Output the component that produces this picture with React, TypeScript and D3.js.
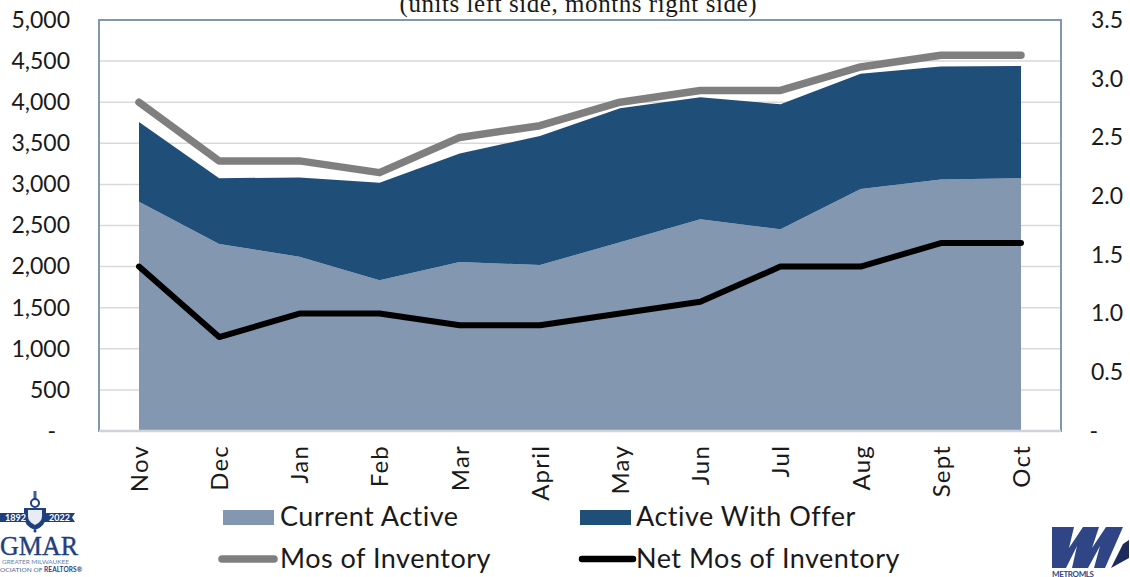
import * as React from 'react';
import * as d3 from 'd3';

const months = ['Nov', 'Dec', 'Jan', 'Feb', 'Mar', 'April', 'May', 'Jun', 'Jul', 'Aug', 'Sept', 'Oct'];
const currentActive = [2790, 2275, 2120, 1835, 2055, 2020, 2295, 2575, 2455, 2945, 3060, 3075];
const activeWithOffer = [970, 800, 965, 1185, 1320, 1570, 1630, 1485, 1520, 1400, 1375, 1365];
const mosOfInventory = [2.8, 2.3, 2.3, 2.2, 2.5, 2.6, 2.8, 2.9, 2.9, 3.1, 3.2, 3.2];
const netMosOfInventory = [1.4, 0.8, 1.0, 1.0, 0.9, 0.9, 1.0, 1.1, 1.4, 1.4, 1.6, 1.6];
const leftTicks = [0, 500, 1000, 1500, 2000, 2500, 3000, 3500, 4000, 4500, 5000];
const rightTicks = [0, 0.5, 1, 1.5, 2, 2.5, 3, 3.5];

const FONT = 'Lato, "Open Sans", sans-serif';
const LIGHT = '#8497b0';
const DARK = '#1f4e79';

const margin = { top: 20, right: 69, bottom: 146, left: 99 };
const width = 1130;
const height = 577;

const CurrentChart = () => {
  const ref = React.useRef<SVGSVGElement | null>(null);

  React.useEffect(() => {
    const svg = d3.select(ref.current);
    svg.selectAll('*').remove();

    const innerW = width - margin.left - margin.right;
    const innerH = height - margin.top - margin.bottom;
    const g = svg.append('g').attr('transform', `translate(${margin.left},${margin.top})`);

    const x = d3.scalePoint().domain(months).range([40, innerW - 40]);
    const yLeft = d3.scaleLinear().domain([0, 5000]).range([innerH, 0]);
    const yRight = d3.scaleLinear().domain([0, 3.5]).range([innerH, 0]);

    // gridlines
    g.selectAll('.grid')
      .data(leftTicks.filter((d) => d > 0 && d < 5000))
      .enter()
      .append('line')
      .attr('x1', 0)
      .attr('x2', innerW)
      .attr('y1', (d) => yLeft(d))
      .attr('y2', (d) => yLeft(d))
      .attr('stroke', '#d9d9d9')
      .attr('stroke-width', 1.5);

    // stacked areas
    const rows = months.map((m, i) => ({ month: m, current: currentActive[i], offer: activeWithOffer[i] }));
    const stacked = d3.stack().keys(['current', 'offer'])(rows as any);
    const area = d3
      .area<any>()
      .x((d) => x(d.data.month))
      .y0((d) => yLeft(d[0]))
      .y1((d) => yLeft(d[1]));
    g.selectAll('.band')
      .data(stacked)
      .enter()
      .append('path')
      .attr('d', (d) => area(d))
      .attr('fill', (d, i) => (i === 0 ? LIGHT : DARK));

    // frame
    g.append('rect')
      .attr('width', innerW)
      .attr('height', innerH)
      .attr('fill', 'none')
      .attr('stroke', LIGHT)
      .attr('stroke-width', 2);
    g.append('line')
      .attr('x1', 0)
      .attr('x2', innerW)
      .attr('y1', innerH)
      .attr('y2', innerH)
      .attr('stroke', '#d0d4da')
      .attr('stroke-width', 2.5);

    // lines
    const line = d3
      .line<number>()
      .x((d, i) => x(months[i]))
      .y((d) => yRight(d));
    g.append('path')
      .attr('d', line(mosOfInventory))
      .attr('fill', 'none')
      .attr('stroke', '#7f7f7f')
      .attr('stroke-width', 7.5)
      .attr('stroke-linecap', 'round')
      .attr('stroke-linejoin', 'round');
    g.append('path')
      .attr('d', line(netMosOfInventory))
      .attr('fill', 'none')
      .attr('stroke', '#000')
      .attr('stroke-width', 6)
      .attr('stroke-linecap', 'round')
      .attr('stroke-linejoin', 'round');

    // axes
    const axisLeft = g
      .append('g')
      .attr('transform', 'translate(-29,0)')
      .call(
        d3
          .axisLeft(yLeft)
          .tickValues(leftTicks)
          .tickSize(0)
          .tickPadding(0)
          .tickFormat((d: any) => (d === 0 ? '-' : d3.format(',')(d)))
      );
    axisLeft.selectAll('.tick text').attr('dx', (d) => (d === 0 ? -14 : 0));

    const axisRight = g
      .append('g')
      .attr('transform', `translate(${innerW + 62},0)`)
      .call(
        d3
          .axisRight(yRight)
          .tickValues(rightTicks)
          .tickSize(0)
          .tickPadding(0)
          .tickFormat((d: any) => (d === 0 ? '-' : d3.format('.1f')(d)))
      );
    axisRight.selectAll('.tick text').attr('text-anchor', 'end').attr('x', 0).attr('dx', (d) => (d === 0 ? -25 : 0));

    const axisBottom = g
      .append('g')
      .attr('transform', `translate(0,${innerH})`)
      .call(d3.axisBottom(x).tickSize(0).tickPadding(0));

    svg.selectAll('.domain').remove();
    svg.selectAll('.tick text').style('font-family', FONT).style('font-size', '23px').style('fill', '#1a1a1a');

    axisBottom
      .selectAll('.tick text')
      .attr('transform', 'rotate(-90)')
      .attr('text-anchor', 'end')
      .attr('x', -14)
      .attr('y', 0)
      .attr('dy', '0.35em')
      .style('font-size', '24px')
      .style('letter-spacing', '1.2px');
  }, []);

  return (
    <svg
      ref={ref}
      width={width}
      height={height}
      style={{ position: 'absolute', left: 0, top: 0, display: 'block', background: '#fff' }}
    />
  );
};

const Legend = () => {
  const text = { fontFamily: FONT, fontSize: 27, fill: '#1a1a1a', letterSpacing: 0.5 };
  return (
    <g>
      <rect x={223} y={510} width={51} height={15} fill={LIGHT} />
      <text x={280} y={526} {...text}>Current Active</text>
      <rect x={580} y={510} width={51} height={15} fill={DARK} />
      <text x={636} y={526} {...text}>Active With Offer</text>
      <line x1={222} x2={274} y1={559} y2={559} stroke="#7f7f7f" strokeWidth={7.5} strokeLinecap="round" />
      <text x={280} y={568} {...text}>Mos of Inventory</text>
      <line x1={582} x2={633} y1={559} y2={559} stroke="#000" strokeWidth={6.5} strokeLinecap="round" />
      <text x={636} y={568} {...text}>Net Mos of Inventory</text>
    </g>
  );
};

const Logos = () => (
  <g>
    {/* GMAR logo */}
    <path d="M0 513 H75 L72 517.5 L75 522 H0 Z" fill="#1f3f7f" />
    <rect x={33.5} y={491} width={3} height={8} fill="#3f5f9f" />
    <circle cx={35} cy={503} r={4} fill="none" stroke="#1f3f7f" strokeWidth={2} />
    <path d="M24 508 H46 V516 Q46 526 35 530 Q24 526 24 516 Z" fill="#1f3f7f" />
    <path d="M28 510 H42 V516 Q42 522 35 525 Q28 522 28 516 Z" fill="#e8ecf4" />
    <circle cx={35} cy={531} r={1.5} fill="#1f3f7f" />
    <text x={5} y={521} fontFamily={FONT} fontSize={9} fontWeight={700} fill="#fff">1892</text>
    <text x={49} y={521} fontFamily={FONT} fontSize={9} fontWeight={700} fill="#fff">2022</text>
    <text x={0} y={555} fontFamily="Liberation Serif" fontSize={27} fill="#1f3f7f" stroke="#1f3f7f" strokeWidth={0.4} textLength={78} lengthAdjust="spacingAndGlyphs">GMAR</text>
    <text x={2} y={563.5} fontFamily={FONT} fontSize={6.5} fill="#6b7fa8" textLength={67}>GREATER MILWAUKEE</text>
    <text x={0} y={571.5} fontFamily={FONT} fontSize={6.5} fill="#4a5f90" textLength={82}>OCIATION OF <tspan fontWeight={700} fill="#1f3f7f">REALTORS®</tspan></text>
    {/* MetroMLS logo */}
    <path
      d="M1052 527 H1074 L1069 548 L1083 527 H1099 L1092 548 L1106 527 H1123 L1105 568 H1094 L1100 546 L1088 568 H1072 L1077 546 L1066 568 H1052 Z"
      fill="#2f4585"
    />
    <path d="M1123 544 L1129 540 V558 L1111 568 Z" fill="#1d2b5c" />
    <text x={1052} y={577} fontFamily={FONT} fontSize={8} fontWeight={700} fill="#2f4585" textLength={42}>METROMLS</text>
  </g>
);

export default function App() {
  return (
    <div>
      <CurrentChart />
      <svg
        width={width}
        height={height}
        style={{ position: 'absolute', left: 0, top: 0, pointerEvents: 'none' }}
      >
        <text x={578} y={12} textAnchor="middle" fontFamily='"Liberation Serif", serif' fontSize={25} fill="#1a1a1a" textLength={357}>
          (units left side, months right side)
        </text>
        <Legend />
        <Logos />
      </svg>
    </div>
  );
}
